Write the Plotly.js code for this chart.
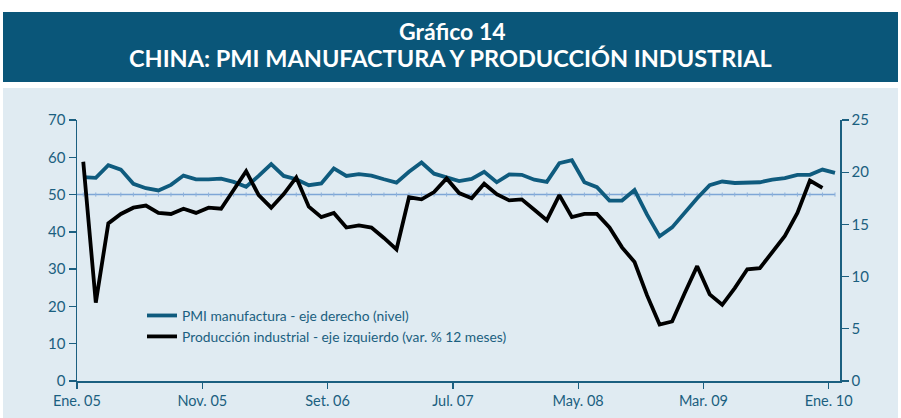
<!DOCTYPE html>
<html>
<head>
<meta charset="utf-8">
<script src="https://cdn.plot.ly/plotly-3.0.1.min.js"></script>
<style>
html,body{margin:0;padding:0;background:#ffffff;}
#chart{width:901px;height:418px;}
</style>
</head>
<body>
<div id="chart"></div>
<script>
// Tick labels (every 10 months, starting Jan 2005)
const tickLabels = ['Ene. 05','Nov. 05','Set. 06','Jul. 07','May. 08','Mar. 09','Ene. 10'];

// PMI manufactura (nivel), Jan 2005 - Jan 2010
const pmi = [
  54.7, 54.5, 57.9, 56.7, 52.9, 51.7, 51.1, 52.6, 55.1, 54.1, 54.1, 54.3,
  53.4, 52.1, 55.0, 58.2, 55.0, 54.1, 52.5, 53.0, 57.0, 55.0, 55.5, 55.1,
  54.1, 53.2, 56.1, 58.6, 55.6, 54.6, 53.6, 54.2, 56.1, 53.3, 55.4, 55.3,
  54.0, 53.4, 58.4, 59.2, 53.3, 52.0, 48.4, 48.4, 51.2, 44.6, 38.8, 41.2,
  45.3, 49.0, 52.5, 53.5, 53.1, 53.2, 53.3, 54.0, 54.4, 55.3, 55.3, 56.7,
  55.8
];

// Producción industrial (var. % 12 meses), Jan 2005 - Dec 2009
const ip = [
  21.0, 7.5, 15.1, 16.0, 16.6, 16.8, 16.1, 16.0, 16.5, 16.1, 16.6, 16.5,
  18.3, 20.1, 17.8, 16.6, 17.9, 19.5, 16.7, 15.7, 16.1, 14.7, 14.9, 14.7,
  13.7, 12.6, 17.6, 17.4, 18.1, 19.4, 18.0, 17.5, 18.9, 17.9, 17.3, 17.4,
  16.4, 15.4, 17.8, 15.7, 16.0, 16.0, 14.7, 12.8, 11.4, 8.2, 5.4, 5.7,
  8.4, 11.0, 8.3, 7.3, 8.9, 10.7, 10.8, 12.3, 13.9, 16.1, 19.2, 18.5
];

const threshold = 50;

const seriesNames = [
  'PMI manufactura - eje derecho (nivel)',
  'Producción industrial - eje izquierdo (var. % 12 meses)'
];

// month index -> x position (centre of each month)
const xOf = arr => arr.map((_, i) => i + 0.5);

const teal = '#1b5f80';
const lineBlue = '#0f5b7e';
const font = 'Lato, "Open Sans", sans-serif';

const traces = [
  {
    x: xOf(pmi), y: pmi.map(() => threshold), type: 'scatter', mode: 'markers',
    marker: {symbol: 'line-ns-open', size: 3, color: '#8fb2dc', line: {width: 1, color: '#8fb2dc'}},
    showlegend: false, hoverinfo: 'skip', yaxis: 'y'
  },
  {
    x: xOf(pmi), y: pmi, name: seriesNames[0], type: 'scatter', mode: 'lines',
    line: {color: lineBlue, width: 3.8}, yaxis: 'y', hoverinfo: 'skip'
  },
  {
    x: xOf(ip), y: ip, name: seriesNames[1], type: 'scatter', mode: 'lines',
    line: {color: '#000000', width: 3.8}, yaxis: 'y2', hoverinfo: 'skip'
  }
];

const L = 77, R = 61, T = 120, B = 37;
const W = 901, H = 418;
const pw = W - L - R, ph = H - T - B;
const px = v => (v - L) / pw;          // pixel x -> paper x
const py = v => (H - B - v) / ph;      // pixel y -> paper y

const layout = {
  width: W, height: H,
  margin: {l: L, r: R, t: T, b: B, pad: 0},
  paper_bgcolor: '#ffffff',
  plot_bgcolor: 'rgba(0,0,0,0)',
  showlegend: true,
  legend: {
    x: px(142), y: py(300), xanchor: 'left', yanchor: 'top',
    bgcolor: 'rgba(0,0,0,0)', borderwidth: 0,
    font: {family: font, size: 13.8, color: teal},
    tracegroupgap: 0
  },
  xaxis: {
    range: [0, 60.9],
    tickvals: tickLabels.map((_, i) => i * 10),
    ticktext: tickLabels,
    ticks: 'outside', ticklen: 6, tickwidth: 1.3, tickcolor: teal,
    showline: true, linecolor: teal, linewidth: 1.5,
    showgrid: false, zeroline: false,
    tickfont: {family: font, size: 14.5, color: teal}
  },
  yaxis: {
    range: [0, 70], dtick: 10, tick0: 0,
    ticks: 'outside', ticklen: 7, tickwidth: 1.3, tickcolor: teal,
    showline: true, linecolor: teal, linewidth: 1.5,
    showgrid: false, zeroline: false,
    tickfont: {family: font, size: 15, color: teal}
  },
  yaxis2: {
    range: [0, 25], dtick: 5, tick0: 0, overlaying: 'y', side: 'right',
    ticks: 'outside', ticklen: 7, tickwidth: 1.3, tickcolor: teal,
    showline: true, linecolor: teal, linewidth: 1.5,
    showgrid: false, zeroline: false,
    tickfont: {family: font, size: 15, color: teal}
  },
  shapes: [
    {type: 'rect', xref: 'paper', yref: 'paper', layer: 'below',
     x0: px(3), x1: px(898), y0: py(418), y1: py(88),
     fillcolor: '#e0ebf2', line: {width: 0}},
    {type: 'rect', xref: 'paper', yref: 'paper', layer: 'below',
     x0: px(3), x1: px(898), y0: py(82), y1: py(12),
     fillcolor: '#0a5679', line: {width: 0}},
    {type: 'line', xref: 'x', yref: 'y', layer: 'below',
     x0: 0, x1: pmi.length - 0.5, y0: threshold, y1: threshold,
     line: {color: '#7ea6d6', width: 1.6}}
  ],
  annotations: [
    {text: '<b>Gráfico 14</b>', xref: 'paper', yref: 'paper',
     x: px(452), y: py(31), xanchor: 'center', yanchor: 'middle', showarrow: false,
     font: {family: font, size: 23, color: '#ffffff'}},
    {text: '<b>CHINA: PMI MANUFACTURA Y PRODUCCIÓN INDUSTRIAL</b>', xref: 'paper', yref: 'paper',
     x: px(450), y: py(58), xanchor: 'center', yanchor: 'middle', showarrow: false,
     font: {family: font, size: 23.5, color: '#ffffff'}}
  ]
};

Plotly.newPlot('chart', traces, layout, {displayModeBar: false, staticPlot: true});
</script>
</body>
</html>
